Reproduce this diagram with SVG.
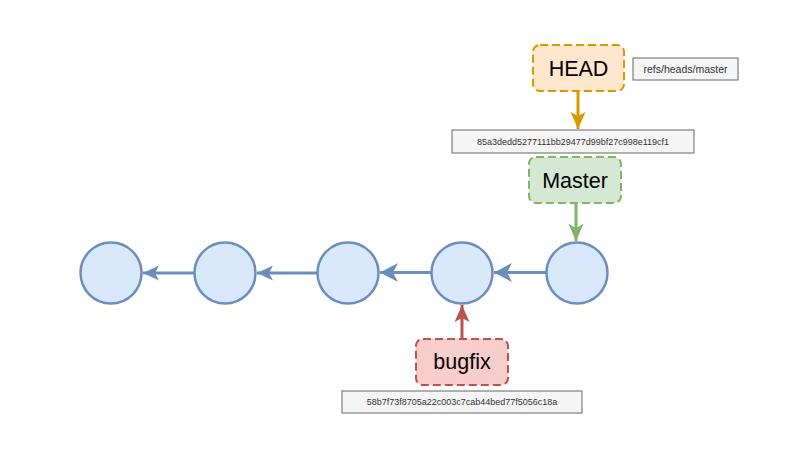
<svg xmlns="http://www.w3.org/2000/svg" width="800" height="450" viewBox="0 0 800 450">
<defs>
<style>
.commit{fill:#dae8fc;stroke:#6c8ebf;stroke-width:2.5}
.ref{stroke-width:2;stroke-dasharray:8 4}
.head{fill:#ffe6cc;stroke:#d79b00}
.master{fill:#d5e8d4;stroke:#82b366}
.bug{fill:#f8cecc;stroke:#b85450}
.hash{fill:#f5f5f5;stroke:#666666;stroke-width:1}
.lbl{font-family:"Liberation Sans",Arial,sans-serif;font-size:21.5px;fill:#000;text-anchor:middle;dominant-baseline:central}
.htxt{font-family:"Liberation Sans",Arial,sans-serif;font-size:9px;fill:#333333;text-anchor:middle;dominant-baseline:central}
.rtxt{font-family:"Liberation Sans",Arial,sans-serif;font-size:10.5px;fill:#333333;text-anchor:middle;dominant-baseline:central}
.edge{fill:none;stroke-width:3}
</style>
<marker id="aBlue" markerUnits="userSpaceOnUse" viewBox="0 0 17 16" markerWidth="17" markerHeight="16" refX="16" refY="8" orient="auto">
<path d="M0,0.5 L16,8 L0,15.5 L4,8 z" fill="#6c8ebf"/>
</marker>
<marker id="aBlueL" markerUnits="userSpaceOnUse" viewBox="0 0 19 20" markerWidth="19" markerHeight="20" refX="18" refY="10" orient="auto">
<path d="M0,0.5 L18,10 L0,19.5 L5,10 z" fill="#6c8ebf"/>
</marker>
<marker id="aOrange" markerUnits="userSpaceOnUse" viewBox="0 0 18 16" markerWidth="18" markerHeight="16" refX="17" refY="8" orient="auto">
<path d="M0,0.5 L17,8 L0,15.5 L4,8 z" fill="#d79b00"/>
</marker>
<marker id="aGreen" markerUnits="userSpaceOnUse" viewBox="0 0 18 16" markerWidth="18" markerHeight="16" refX="17" refY="8" orient="auto">
<path d="M0,0.5 L17,8 L0,15.5 L4,8 z" fill="#82b366"/>
</marker>
<marker id="aRed" markerUnits="userSpaceOnUse" viewBox="0 0 18 16" markerWidth="18" markerHeight="16" refX="17" refY="8" orient="auto">
<path d="M0,0.5 L17,8 L0,15.5 L4,8 z" fill="#b85450"/>
</marker>
</defs>
<rect width="800" height="450" fill="#ffffff"/>

<g id="connectors">
<line class="edge" x1="194" y1="273" x2="143" y2="273" stroke="#6c8ebf" marker-end="url(#aBlue)"/>
<line class="edge" x1="317" y1="273" x2="257" y2="273" stroke="#6c8ebf" marker-end="url(#aBlue)"/>
<line class="edge" x1="431" y1="272.5" x2="380" y2="272.5" stroke="#6c8ebf" stroke-width="4.5" marker-end="url(#aBlueL)"/>
<line class="edge" x1="547" y1="272.5" x2="494" y2="272.5" stroke="#6c8ebf" stroke-width="4.5" marker-end="url(#aBlueL)"/>
<line class="edge" x1="578" y1="92" x2="578" y2="129" stroke="#d79b00" marker-end="url(#aOrange)"/>
<line class="edge" x1="576" y1="203" x2="576" y2="241" stroke="#82b366" marker-end="url(#aGreen)"/>
<line class="edge" x1="462" y1="339" x2="462" y2="305" stroke="#b85450" marker-end="url(#aRed)"/>
</g>

<g id="c1"><circle class="commit" cx="111" cy="273" r="30.5"/></g>
<g id="c2"><circle class="commit" cx="225" cy="273" r="30.5"/></g>
<g id="c3"><circle class="commit" cx="348" cy="273" r="30.5"/></g>
<g id="c4"><circle class="commit" cx="462" cy="273" r="30.5"/></g>
<g id="c5"><circle class="commit" cx="577" cy="273" r="30.5"/></g>

<g id="head">
<rect class="ref head" x="533" y="45" width="91" height="46" rx="7"/>
<text class="lbl" x="578.5" y="69">HEAD</text>
</g>
<g id="headref">
<rect class="hash" x="633" y="58" width="105" height="22"/>
<text class="rtxt" x="685.5" y="69">refs/heads/master</text>
</g>
<g id="masterhash">
<rect class="hash" x="452" y="130" width="242" height="23"/>
<text class="htxt" x="573" y="141.5">85a3dedd5277111bb29477d99bf27c998e119cf1</text>
</g>
<g id="master">
<rect class="ref master" x="529" y="157" width="92" height="46" rx="7"/>
<text class="lbl" x="575" y="181">Master</text>
</g>
<g id="bugfix">
<rect class="ref bug" x="416" y="339" width="92" height="46" rx="7"/>
<text class="lbl" x="462" y="362">bugfix</text>
</g>
<g id="bugfixhash">
<rect class="hash" x="342" y="391" width="240" height="22"/>
<text class="htxt" x="462" y="402">58b7f73f8705a22c003c7cab44bed77f5056c18a</text>
</g>
</svg>
